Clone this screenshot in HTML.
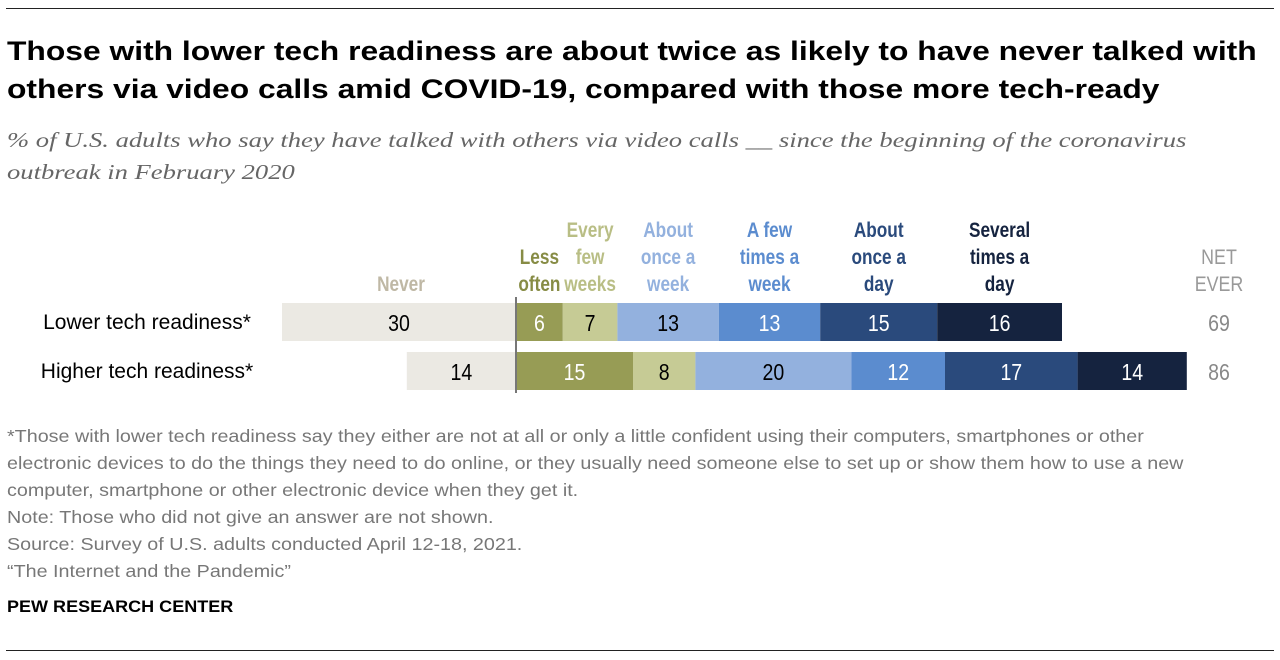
<!DOCTYPE html>
<html><head><meta charset="utf-8"><style>
body{margin:0;width:1280px;height:660px;background:#fff;font-family:"Liberation Sans",sans-serif;overflow:hidden;position:relative}
.rule{position:absolute;left:6px;width:1268px;height:1px;background:#222}
#title{position:absolute;left:7px;top:32px;font-size:27px;font-weight:bold;color:#000;line-height:38px;white-space:nowrap;transform:scaleX(1.178);transform-origin:0 0}
#sub{position:absolute;left:7px;top:124px;font-family:"Liberation Serif",serif;font-style:italic;font-size:21.5px;color:#666;line-height:32px;white-space:nowrap;transform:scaleX(1.237);transform-origin:0 0}
#notes{position:absolute;left:7px;top:423px;font-size:17.5px;color:#777;line-height:27px;white-space:nowrap;transform:scaleX(1.127);transform-origin:0 0}
#brand{position:absolute;left:7px;top:597px;font-size:17px;font-weight:bold;color:#000;transform:scaleX(1.06);transform-origin:0 0}
</style></head><body>
<div class="rule" style="top:8px"></div>
<div class="rule" style="top:650px"></div>
<div id="title">Those with lower tech readiness are about twice as likely to have never talked with<br>others via video calls amid COVID-19, compared with those more tech-ready</div>
<div id="sub">% of U.S. adults who say they have talked with others via video calls __ since the beginning of the coronavirus<br>outbreak in February 2020</div>
<svg id="chart" width="1280" height="660" style="position:absolute;left:0;top:0"></svg>
<div id="notes">*Those with lower tech readiness say they either are not at all or only a little confident using their computers, smartphones or other<br>electronic devices to do the things they need to do online, or they usually need someone else to set up or show them how to use a new<br>computer, smartphone or other electronic device when they get it.<br>Note: Those who did not give an answer are not shown.<br>Source: Survey of U.S. adults conducted April 12-18, 2021.<br>“The Internet and the Pandemic”</div>
<div id="brand">PEW RESEARCH CENTER</div>
<script>
const rows = ["Lower tech readiness*", "Higher tech readiness*"];
const never = [30, 14];
const lessOften = [6, 15];
const everyFewWeeks = [7, 8];
const onceWeek = [13, 20];
const fewTimesWeek = [13, 12];
const onceDay = [15, 17];
const severalDay = [16, 14];
const netEver = [69, 86];
const catLabels = [["Less","often"],["Every","few","weeks"],["About","once a","week"],["A few","times a","week"],["About","once a","day"],["Several","times a","day"]];

const NS="http://www.w3.org/2000/svg";
const svg=document.getElementById('chart');
const base=516, scale=7.8;
const x=v=>base+v*scale;
const rowY=[303,352], barH=38;
const FONT='"Liberation Sans",sans-serif';
function mk(tag,attrs){const e=document.createElementNS(NS,tag);for(const k in attrs)e.setAttribute(k,attrs[k]);svg.appendChild(e);return e;}
function txt(s,xx,yy,fill,size,anchor,weight,sx){
  const t=mk('text',{x:0,y:0,fill:fill,'font-size':size,'text-anchor':anchor||'middle','font-weight':weight||'normal','font-family':FONT,transform:'translate('+xx+','+yy+') scale('+(sx||0.85)+',1)'});
  t.textContent=s;return t;}

const series=[lessOften,everyFewWeeks,onceWeek,fewTimesWeek,onceDay,severalDay];
const colors=["#979c55","#c6cb95","#93b1de","#5b8ccf","#2a4a7c","#15233f"];
const textCols=["#fff","#000","#000","#fff","#fff","#fff"];
const labelCols=["#878c45","#b9be85","#93b1de","#5b8ccf","#2a4a7c","#15233f"];
const keys=['less-often','every-few-weeks','once-a-week','few-times-a-week','once-a-day','several-times-a-day'];

rows.forEach((r,i)=>{
  const y=rowY[i];
  const l=txt(r,147,y+26,'#000',21,'middle','normal',1);
  
  
  const nb=mk('rect',{x:x(-never[i]),y:y,width:never[i]*scale,height:barH,fill:'#ebe9e3'});
  
  
  const nt=txt(never[i],x(-never[i]/2),y+28,'#000',23);
  
  
  let c=0;
  series.forEach((s,j)=>{
    const b=mk('rect',{x:x(c),y:y,width:s[i]*scale,height:barH,fill:colors[j]});
    
    
    const t=txt(s[i],x(c+s[i]/2),y+28,textCols[j],23);
    
    
    c+=s[i];
  });
  const ne=txt(netEver[i],1219,y+28,'#888',23);
  
  
});
const ax=mk('line',{x1:base,x2:base,y1:297,y2:393,stroke:'#777','stroke-width':2});



const hn=txt('Never',x(-never[0]/2)+2,291,'#bfb8a5',21,'middle','bold',0.82);


let c=0;
series.forEach((s,j)=>{
  const cx=x(c+s[0]/2); c+=s[0];
  const lines=catLabels[j];
  lines.forEach((ln,k)=>{
    const t=txt(ln,cx,291-(lines.length-1-k)*27,labelCols[j],21,'middle','bold',0.82);
    
    
  });
});
const n1=txt('NET',1219,264,'#999',21);


const n2=txt('EVER',1219,291,'#999',21);


</script>
</body></html>
